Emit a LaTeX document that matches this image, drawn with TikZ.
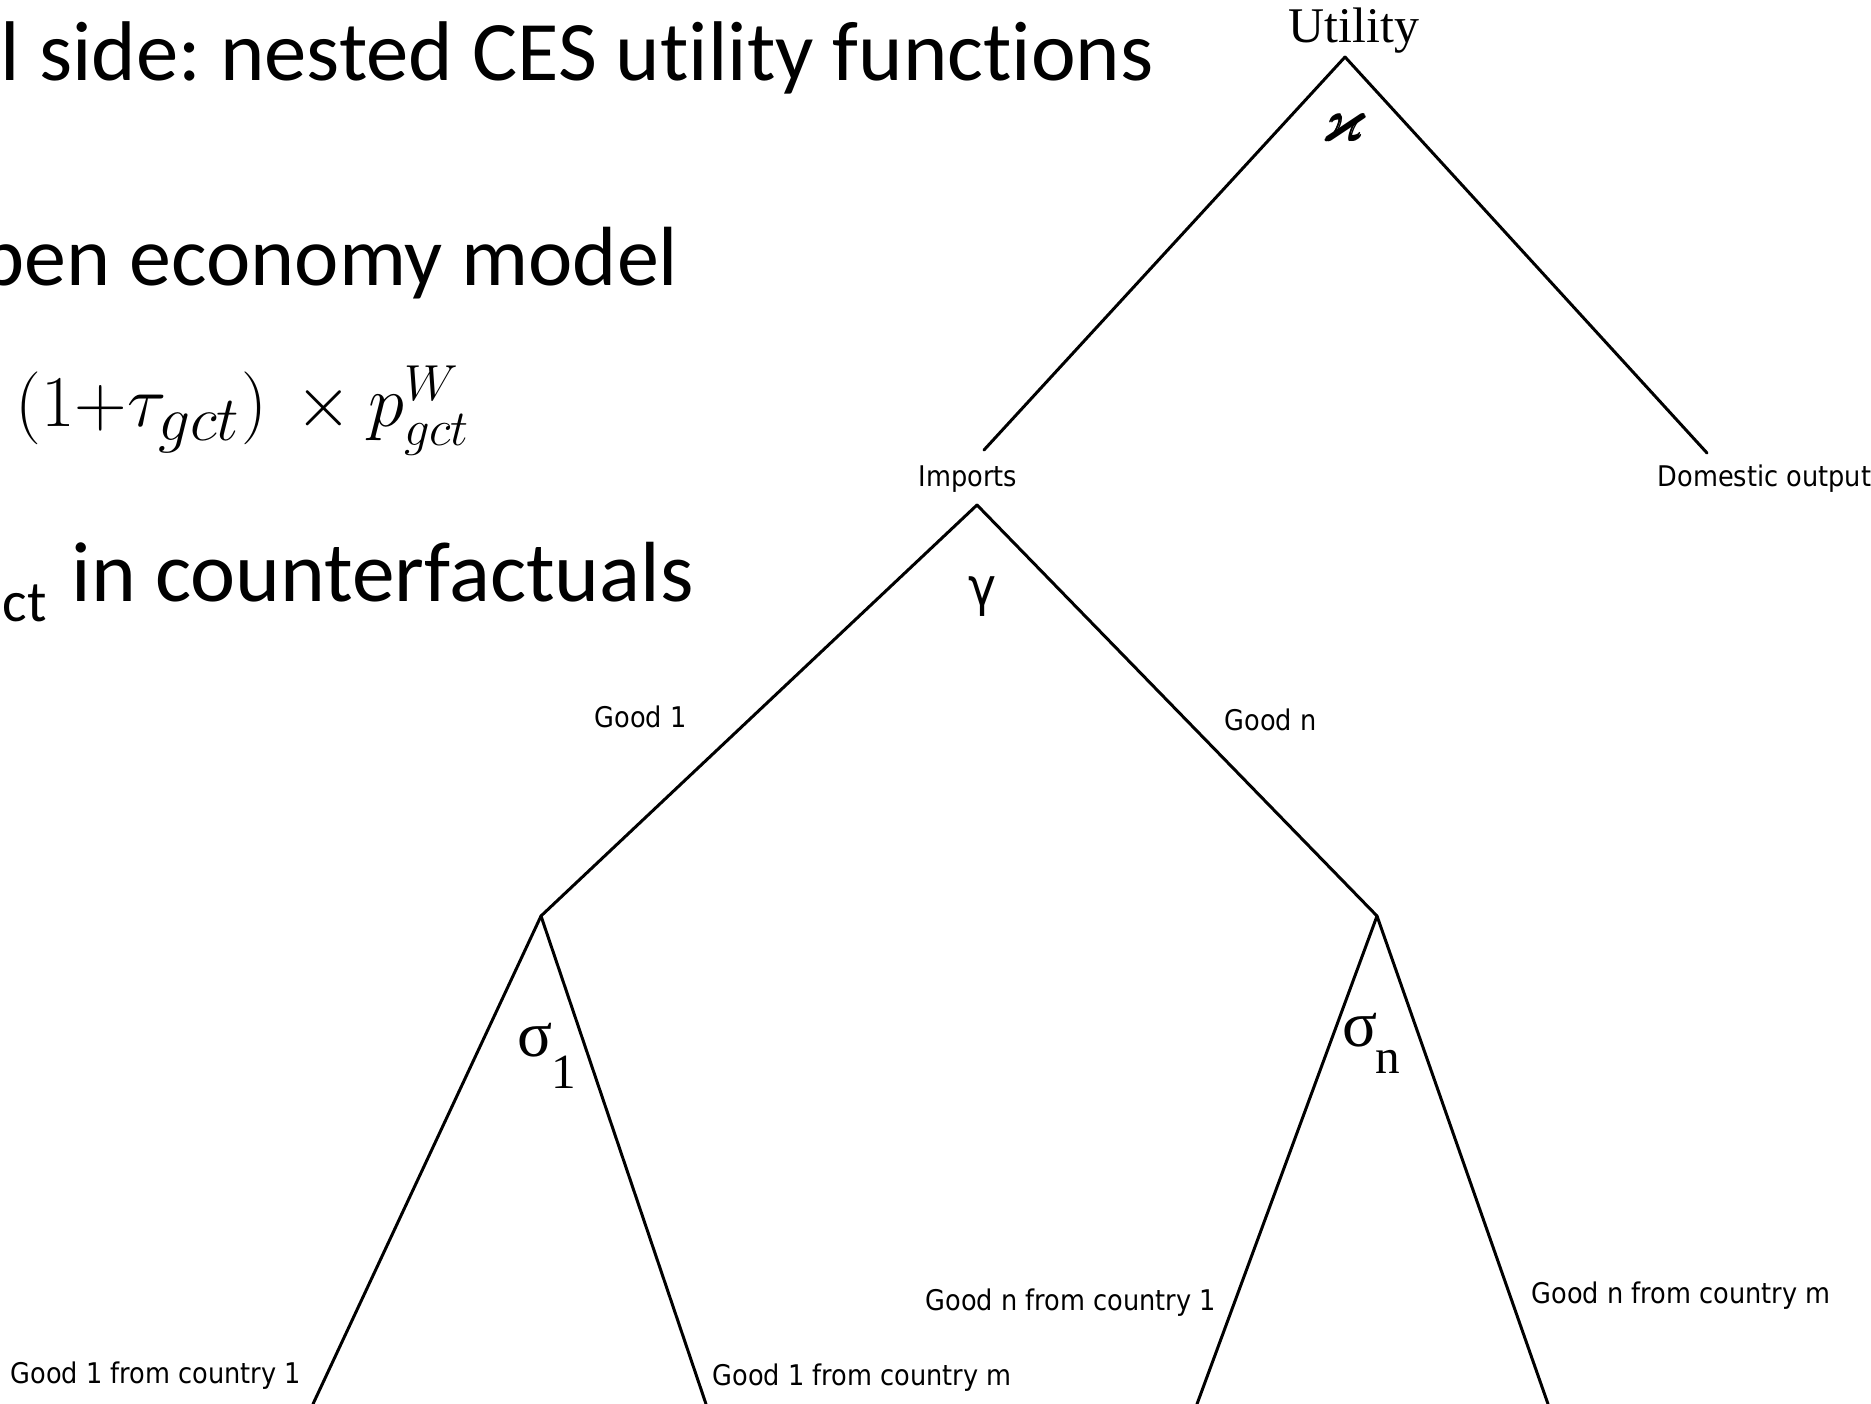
\documentclass[tikz,border=0pt]{standalone}
\usepackage{amsmath}
\usepackage{amssymb}
\usepackage{fontspec}
\newfontfamily\slidefont[Ligatures=NoCommon]{Carlito}
\newfontfamily\treefont[FakeStretch=0.9]{DejaVu Sans}
\newfontfamily\serifgreek{Liberation Serif}
\usetikzlibrary{positioning}
\frenchspacing
\newcommand{\bigsub}[1]{\scalebox{1.25}{$\scriptstyle #1$}}

\begin{document}
\begin{tikzpicture}[
    branch/.style={line width=0.85pt, line cap=round},
    lbl/.style={inner sep=0pt, anchor=base west, font=\treefont\fontsize{8.1}{9}\selectfont},
    slide/.style={inner sep=0pt, anchor=base west, font=\slidefont\fontsize{23.9}{28}\selectfont},
    sig/.style={inner sep=0pt, font=\serifgreek\fontsize{18.5}{20}\selectfont},
    sigsub/.style={inner sep=0pt, font=\serifgreek\fontsize{14}{15}\selectfont}
  ]
  \useasboundingbox (0,0) rectangle (18.71,-14.04);
  \clip (0,0) rectangle (18.71,-14.04);

  % --- SLIDE TEXT (LEFT) ---
  \node[slide, font=\slidefont\fontsize{24.1}{28}\selectfont] (head) at (0,-0.81) {l side: nested CES utility functions};
  \node[slide] (open) at (-0.20,-2.86) {pen economy model};
  \node[inner sep=0pt, anchor=base west, font=\fontsize{20.5}{24}\selectfont] (price) at (0.15,-4.27)
    {$(1{+}\tau_{\bigsub{gct}})\,\times p^W_{gct}$};
  \node[inner sep=0pt, anchor=base west, font=\slidefont\fontsize{16.5}{18}\selectfont] (sub) at (0.02,-6.22) {ct};
  \node[slide, font=\slidefont\fontsize{24.3}{28}\selectfont] (cf) at (0.71,-6.02) {in counterfactuals};

  % --- TOP LEVEL: UTILITY ---
  \node[inner sep=0pt, anchor=base, font=\serifgreek\fontsize{14.2}{16}\selectfont] (util) at (13.54,-0.43) {Utility};
  \coordinate (uapx) at (13.45,-0.57);
  \node[inner sep=0pt, font=\fontsize{17}{18}\selectfont] (kappa) at (13.45,-1.28) {\pmb{$\varkappa$}};
  \coordinate (impend) at (9.84,-4.50);
  \coordinate (domend) at (17.07,-4.53);
  \draw[branch] (uapx) -- (impend);
  \draw[branch] (uapx) -- (domend);
  \node[lbl] (imports) at (9.18,-4.87) {Imports};
  \node[lbl] (domestic) at (16.57,-4.87) {Domestic output};

  % --- IMPORTS: GOODS ---
  \coordinate (gapx) at (9.77,-5.05);
  \node[inner sep=0pt, font=\treefont\fontsize{15}{16}\selectfont] (gamma) at (9.83,-5.97) {γ};
  \coordinate (s1apx) at (5.41,-9.16);
  \coordinate (snapx) at (13.77,-9.16);
  \draw[branch] (gapx) -- (s1apx);
  \draw[branch] (gapx) -- (snapx);
  \node[lbl] (good1) at (5.94,-7.28) {Good 1};
  \node[lbl] (goodn) at (12.24,-7.31) {Good n};

  % --- GOOD 1 AND GOOD n: COUNTRIES ---
  \node[sig] (sig1) at (5.35,-10.40) {σ};
  \node[sigsub] (sig1sub) at (5.64,-10.72) {1};
  \node[sig] (sign) at (13.60,-10.30) {σ};
  \node[sigsub] (signsub) at (13.88,-10.62) {n};
  \coordinate (s1l) at (3.13,-14.04);
  \coordinate (s1r) at (7.06,-14.04);
  \coordinate (snl) at (11.97,-14.04);
  \coordinate (snr) at (15.48,-14.04);
  \draw[branch] (s1apx) -- (s1l);
  \draw[branch] (s1apx) -- (s1r);
  \draw[branch] (snapx) -- (snl);
  \draw[branch] (snapx) -- (snr);
  \node[lbl] (g11) at (0.10,-13.83) {Good 1 from country 1};
  \node[lbl] (g1m) at (7.12,-13.85) {Good 1 from country m};
  \node[lbl] (gn1) at (9.25,-13.10) {Good n from country 1};
  \node[lbl] (gnm) at (15.31,-13.03) {Good n from country m};
\end{tikzpicture}
\end{document}
